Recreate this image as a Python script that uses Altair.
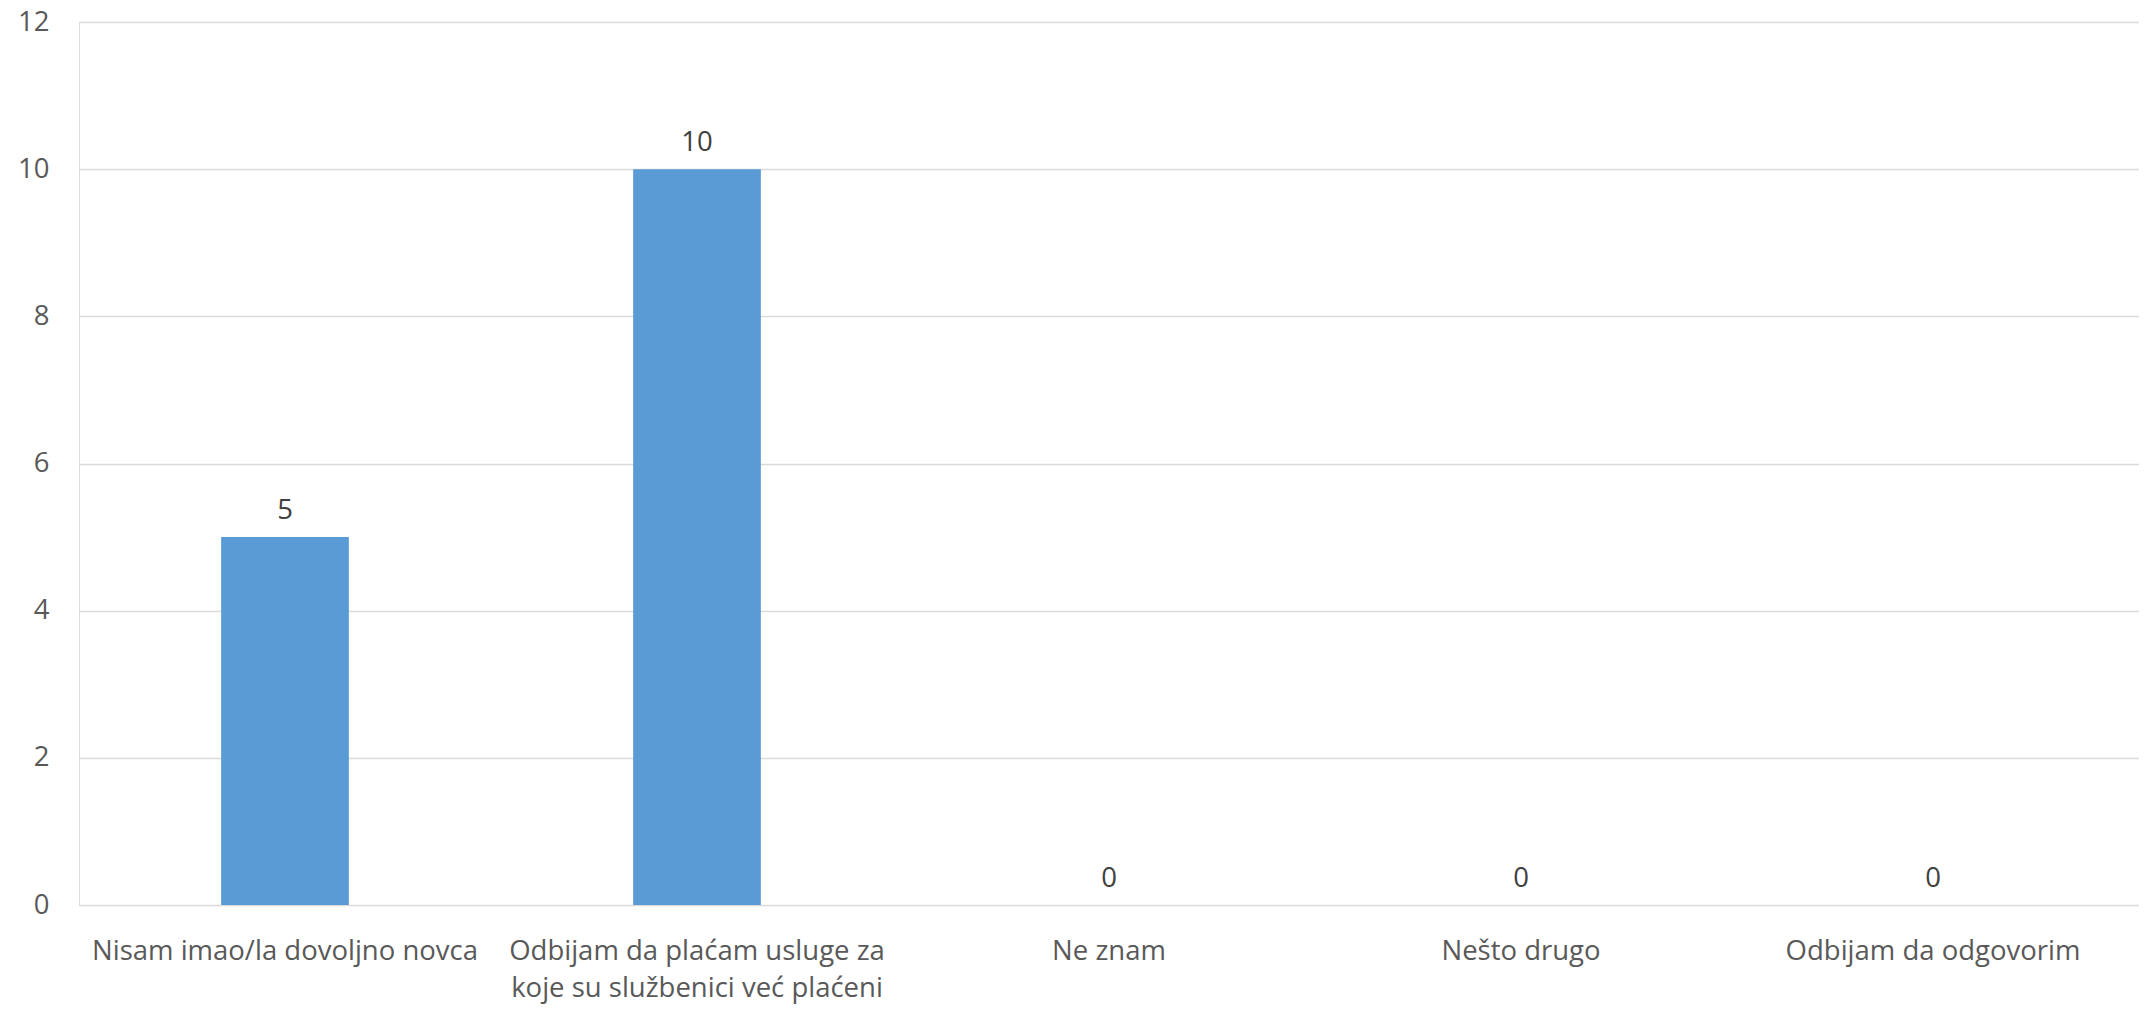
import altair as alt
import pandas as pd

categories = [
    "Nisam imao/la dovoljno novca",
    "Odbijam da plaćam usluge za\nkoje su službenici već plaćeni",
    "Ne znam",
    "Nešto drugo",
    "Odbijam da odgovorim",
]
values = [5, 10, 0, 0, 0]
y_ticks = [0, 2, 4, 6, 8, 10, 12]

df = pd.DataFrame({"cat": categories, "val": values})

FONT = "Open Sans"

x = alt.X(
    "cat:N",
    sort=categories,
    title=None,
    scale=alt.Scale(paddingInner=0.69, paddingOuter=0.345),
    axis=alt.Axis(
        labelAngle=0,
        labelExpr="split(datum.label, '\\n')",
        labelFont=FONT,
        labelFontSize=27.5,
        labelColor="#595959",
        labelPadding=32,
        labelLineHeight=37,
        labelBaseline="top",
        ticks=False,
        domain=False,
        grid=False,
        labelLimit=0,
    ),
)
y = alt.Y(
    "val:Q",
    title=None,
    scale=alt.Scale(domain=[0, 12], nice=False),
    axis=alt.Axis(
        values=y_ticks,
        labelFont=FONT,
        labelFontSize=27.5,
        labelColor="#595959",
        labelPadding=30,
        ticks=False,
        domain=False,
        gridColor="#D9D9D9",
        gridWidth=1.5,
    ),
)

bars = alt.Chart(df).mark_bar(color="#5B9BD5").encode(x=x, y=y)
labels = alt.Chart(df).mark_text(
    font=FONT, fontSize=27.5, color="#404040", dy=-26, baseline="middle"
).encode(x=x, y=y, text="val:Q")

chart = (
    alt.layer(bars, labels)
    .properties(
        width=2060,
        height=883,
        autosize=alt.AutoSizeParams(type="none"),
        padding={"left": 71, "top": 14, "right": 0, "bottom": 101},
    )
    .configure_view(stroke="transparent", strokeWidth=0)
    .configure_axis(domain=False)
    .configure(background="white")
)

chart.save("out.html", embed_options={"renderer": "svg", "actions": False})
